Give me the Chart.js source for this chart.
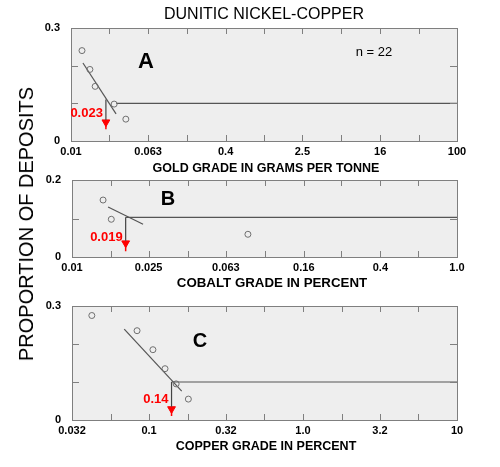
<!DOCTYPE html>
<html>
<head>
<meta charset="utf-8">
<script src="https://cdn.jsdelivr.net/npm/chart.js@4/dist/chart.umd.min.js"></script>
<style>
  body { margin: 0; background: #fff; }
  #wrap { position: relative; width: 500px; height: 467px; overflow: hidden; font-family: "Liberation Sans", Arial, sans-serif; }
  canvas { position: absolute; left: 0; }
  .lbl { position: absolute; white-space: nowrap; line-height: 1; color: #000; transform: translate(-50%, -50%); }
  .axt { font-size: 12.5px; font-weight: bold; }
</style>
</head>
<body>
<div id="wrap">
  <canvas id="chartA" width="500" height="145" style="top:20px"></canvas>
  <canvas id="chartB" width="500" height="111" style="top:170px"></canvas>
  <canvas id="chartC" width="500" height="148" style="top:296px"></canvas>

  <div class="lbl" style="left:264px;top:14px;font-size:16px">DUNITIC NICKEL-COPPER</div>
  <div class="lbl" style="left:26px;top:224px;font-size:20px;transform:translate(-50%,-50%) rotate(-90deg)">PROPORTION OF DEPOSITS</div>

  <div class="lbl" style="left:146px;top:61px;font-size:22px;font-weight:bold">A</div>
  <div class="lbl" style="left:374px;top:51px;font-size:13px">n = 22</div>
  <div class="lbl axt" style="left:266px;top:168px">GOLD GRADE IN GRAMS PER TONNE</div>

  <div class="lbl" style="left:168px;top:198px;font-size:20px;font-weight:bold">B</div>
  <div class="lbl axt" style="left:272px;top:283px;font-size:13.3px">COBALT GRADE IN PERCENT</div>

  <div class="lbl" style="left:200px;top:340px;font-size:20px;font-weight:bold">C</div>
  <div class="lbl axt" style="left:266px;top:446px">COPPER GRADE IN PERCENT</div>
</div>

<script>
// --- Panel A: gold grade (g/t) ---
const goldX = [0.013, 0.0157, 0.0178, 0.028, 0.037];
const goldY = [0.24, 0.19, 0.145, 0.098, 0.058];
const goldFitX = [0.0133, 0.0293];
const goldFitY = [0.207, 0.072];
const goldTicks = [0.01, 0.025, 0.063, 0.16, 0.4, 1, 2.5, 6.3, 16, 40, 100];
const goldTickLabels = ['0.01', '', '0.063', '', '0.4', '', '2.5', '', '16', '', '100'];
const goldYTicks = [0, 0.1, 0.2, 0.3];
const goldYLabels = ['0', '', '', '0.3'];

// --- Panel B: cobalt grade (%) ---
const cobaltX = [0.0145, 0.016, 0.082];
const cobaltY = [0.148, 0.098, 0.059];
const cobaltFitX = [0.0154, 0.0234];
const cobaltFitY = [0.13, 0.085];
const cobaltTicks = [0.01, 0.016, 0.025, 0.04, 0.063, 0.1, 0.16, 0.25, 0.4, 0.63, 1.0];
const cobaltTickLabels = ['0.01', '', '0.025', '', '0.063', '', '0.16', '', '0.4', '', '1.0'];
const cobaltYTicks = [0, 0.1, 0.2];
const cobaltYLabels = ['0', '', '0.2'];

// --- Panel C: copper grade (%) ---
const copperX = [0.0425, 0.0836, 0.106, 0.127, 0.15, 0.18];
const copperY = [0.275, 0.235, 0.185, 0.135, 0.095, 0.055];
const copperFitX = [0.069, 0.163];
const copperFitY = [0.239, 0.076];
const copperTicks = [0.0316, 0.0562, 0.1, 0.178, 0.316, 0.562, 1, 1.78, 3.16, 5.62, 10];
const copperTickLabels = ['0.032', '', '0.1', '', '0.32', '', '1.0', '', '3.2', '', '10'];
const copperYTicks = [0, 0.1, 0.2, 0.3];
const copperYLabels = ['0', '', '', '0.3'];

// cut-off grade (red arrow), level line and arrow points for each panel
const cutoffs = [0.023, 0.019, 0.14];
const levels = [0.1, 0.103, 0.1];
const levelStarts = [0.0295, 0.019, 0.14];
const dropTops = [0.11, 0.103, 0.1];
const arrowBases = [0.056, 0.042, 0.035];
const arrowHeads = [0.05, 0.036, 0.029];
const arrowEnds = [0.031, 0.015, 0.0105];
const cutLabelY = [0.072, 0.052, 0.055];

const FONT = '"Liberation Sans", Arial, sans-serif';
const FRAME = '#7f7f7f';
const LINE = '#555555';

const zip = (xs, ys) => xs.map((x, i) => ({ x: x, y: ys[i] }));

// no extra room for overflowing tick labels, keeps the plot box where we put it
function noOverflow(s) {
    s.paddingTop = 0; s.paddingBottom = 0;
    s.paddingLeft = 0; s.paddingRight = 0;
}

// background, inward ticks, frame and red cut-off label
const panelFrame = {
    id: 'panelFrame',
    beforeDatasetsDraw(chart) {
        const { ctx, chartArea: a } = chart;
        ctx.save();
        ctx.fillStyle = '#eeeeee';
        ctx.fillRect(a.left, a.top, a.right - a.left, a.bottom - a.top);
        ctx.restore();
    },
    afterDatasetsDraw(chart, args, opts) {
        const { ctx, chartArea: a, scales: { x, y } } = chart;
        ctx.save();
        ctx.strokeStyle = FRAME;
        ctx.lineWidth = 1;
        ctx.beginPath();
        x.ticks.slice(1, -1).forEach(t => {
            const px = Math.round(x.getPixelForValue(t.value)) + 0.5;
            ctx.moveTo(px, a.top); ctx.lineTo(px, a.top + 6);
            ctx.moveTo(px, a.bottom); ctx.lineTo(px, a.bottom - 6);
        });
        y.ticks.slice(1, -1).forEach(t => {
            const py = Math.round(y.getPixelForValue(t.value)) + 0.5;
            ctx.moveTo(a.left, py); ctx.lineTo(a.left + 7, py);
            ctx.moveTo(a.right, py); ctx.lineTo(a.right - 7, py);
        });
        ctx.stroke();
        ctx.strokeRect(Math.round(a.left) + 0.5, Math.round(a.top) + 0.5,
            Math.round(a.right - a.left), Math.round(a.bottom - a.top));

        // red cut-off value next to the arrow
        ctx.fillStyle = '#ff0000';
        ctx.font = 'bold 13px ' + FONT;
        ctx.textAlign = 'right';
        ctx.textBaseline = 'middle';
        ctx.fillText(String(opts.cut), x.getPixelForValue(opts.cut) - 3, y.getPixelForValue(opts.labelY));
        ctx.restore();
    }
};

function buildPanel(id, k, p) {
    const ctx = document.getElementById(id).getContext('2d');
    return new Chart(ctx, {
        type: 'scatter',
        data: {
            datasets: [
                {   // deposits
                    data: zip(p.px, p.py),
                    pointRadius: 3,
                    pointBorderWidth: 1,
                    pointBorderColor: '#707070',
                    pointBackgroundColor: 'rgba(0,0,0,0)'
                },
                {   // fitted line
                    type: 'line', data: zip(p.fitX, p.fitY),
                    borderColor: LINE, borderWidth: 1.2, pointRadius: 0, fill: false
                },
                {   // level line
                    type: 'line', data: [{ x: levelStarts[k], y: levels[k] }, { x: p.xMax, y: levels[k] }],
                    borderColor: LINE, borderWidth: 1.2, pointRadius: 0, fill: false
                },
                {   // drop line to arrow
                    type: 'line', data: [{ x: cutoffs[k], y: dropTops[k] }, { x: cutoffs[k], y: arrowBases[k] }],
                    borderColor: '#444444', borderWidth: 1.2, pointRadius: 0, fill: false
                },
                {   // red stem
                    type: 'line', data: [{ x: cutoffs[k], y: arrowBases[k] }, { x: cutoffs[k], y: arrowEnds[k] }],
                    borderColor: '#ff0000', borderWidth: 1.5, pointRadius: 0, fill: false
                },
                {   // red arrow head
                    data: [{ x: cutoffs[k], y: arrowHeads[k] }],
                    pointStyle: 'triangle', rotation: 180, pointRadius: 4.5,
                    pointBackgroundColor: '#ff0000', pointBorderColor: '#ff0000', pointBorderWidth: 1
                }
            ]
        },
        options: {
            responsive: false,
            animation: false,
            events: [],
            layout: { padding: { left: 0, right: 43, top: p.padTop, bottom: 4 } },
            plugins: {
                legend: { display: false },
                tooltip: { enabled: false },
                panelFrame: { cut: cutoffs[k], labelY: cutLabelY[k] }
            },
            scales: {
                x: {
                    type: 'logarithmic',
                    min: p.xMin, max: p.xMax,
                    afterBuildTicks: s => { s.ticks = p.xTicks.map(v => ({ value: v })); },
                    afterFit: s => { s.height = 20; noOverflow(s); },
                    grid: { display: false, drawTicks: false },
                    border: { display: false },
                    ticks: {
                        autoSkip: false, maxRotation: 0, minRotation: 0, padding: 4,
                        color: '#000', font: { family: FONT, size: 11, weight: 'bold' },
                        callback: (v, i) => p.xLabels[i]
                    }
                },
                y: {
                    type: 'linear',
                    min: 0, max: p.yMax,
                    afterBuildTicks: s => { s.ticks = p.yTicks.map(v => ({ value: v })); },
                    afterFit: s => { s.width = p.left; noOverflow(s); },
                    grid: { display: false, drawTicks: false },
                    border: { display: false },
                    ticks: {
                        autoSkip: false, padding: 11,
                        color: '#000', font: { family: FONT, size: 11, weight: 'bold' },
                        callback: (v, i) => p.yLabels[i]
                    }
                }
            }
        },
        plugins: [panelFrame]
    });
}

buildPanel('chartA', 0, {
    px: goldX, py: goldY, fitX: goldFitX, fitY: goldFitY,
    xMin: 0.01, xMax: 100, xTicks: goldTicks, xLabels: goldTickLabels,
    yMax: 0.3, yTicks: goldYTicks, yLabels: goldYLabels, padTop: 8, left: 71
});
buildPanel('chartB', 1, {
    px: cobaltX, py: cobaltY, fitX: cobaltFitX, fitY: cobaltFitY,
    xMin: 0.01, xMax: 1.0, xTicks: cobaltTicks, xLabels: cobaltTickLabels,
    yMax: 0.2, yTicks: cobaltYTicks, yLabels: cobaltYLabels, padTop: 10, left: 72
});
buildPanel('chartC', 2, {
    px: copperX, py: copperY, fitX: copperFitX, fitY: copperFitY,
    xMin: 0.0316, xMax: 10, xTicks: copperTicks, xLabels: copperTickLabels,
    yMax: 0.3, yTicks: copperYTicks, yLabels: copperYLabels, padTop: 10, left: 72
});
</script>
</body>
</html>
